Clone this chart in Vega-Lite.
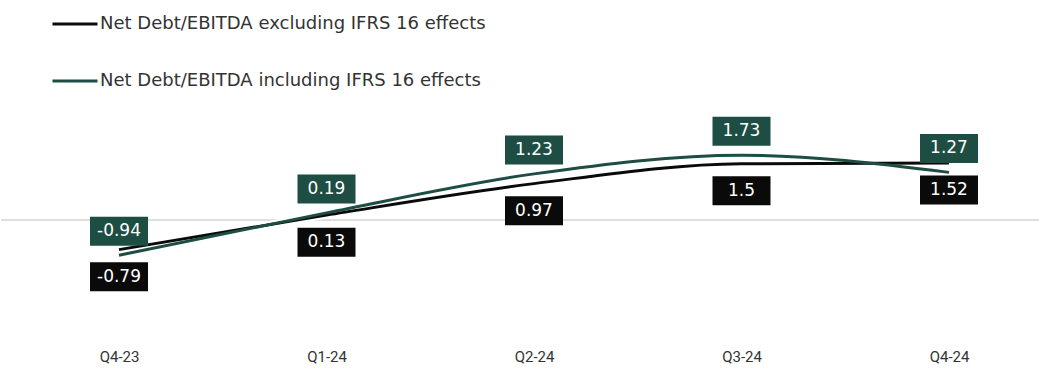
{
  "$schema": "https://vega.github.io/schema/vega-lite/v6.json",
  "width": 1039,
  "height": 340,
  "autosize": {"type": "pad"},
  "padding": 0,
  "background": "#ffffff",
  "config": {
    "view": {"stroke": null},
    "font": "DejaVu Sans",
    "locale": {
      "number": {"decimal": ".", "thousands": ",", "grouping": [3], "currency": ["", ""], "minus": "-"}
    }
  },
  "data": {
    "values": [
      {"quarter": "Q4-23", "series": "Net Debt/EBITDA excluding IFRS 16 effects", "ratio": -0.79},
      {"quarter": "Q1-24", "series": "Net Debt/EBITDA excluding IFRS 16 effects", "ratio": 0.13},
      {"quarter": "Q2-24", "series": "Net Debt/EBITDA excluding IFRS 16 effects", "ratio": 0.97},
      {"quarter": "Q3-24", "series": "Net Debt/EBITDA excluding IFRS 16 effects", "ratio": 1.5},
      {"quarter": "Q4-24", "series": "Net Debt/EBITDA excluding IFRS 16 effects", "ratio": 1.52},
      {"quarter": "Q4-23", "series": "Net Debt/EBITDA including IFRS 16 effects", "ratio": -0.94},
      {"quarter": "Q1-24", "series": "Net Debt/EBITDA including IFRS 16 effects", "ratio": 0.19},
      {"quarter": "Q2-24", "series": "Net Debt/EBITDA including IFRS 16 effects", "ratio": 1.23},
      {"quarter": "Q3-24", "series": "Net Debt/EBITDA including IFRS 16 effects", "ratio": 1.73},
      {"quarter": "Q4-24", "series": "Net Debt/EBITDA including IFRS 16 effects", "ratio": 1.27}
    ]
  },
  "encoding": {
    "x": {
      "field": "quarter",
      "type": "ordinal",
      "sort": ["Q4-23", "Q1-24", "Q2-24", "Q3-24", "Q4-24"],
      "scale": {"type": "point", "range": [118, 948], "padding": 0},
      "axis": {
        "title": null,
        "domain": false,
        "ticks": false,
        "tickSize": 0,
        "grid": false,
        "labelAngle": 0,
        "labelPadding": 9,
        "labelFont": "Roboto",
        "labelFontSize": 15,
        "labelColor": "#333333"
      }
    },
    "y": {
      "field": "ratio",
      "type": "quantitative",
      "scale": {"domain": [-3.2, 5.8667], "nice": false, "zero": false},
      "axis": null
    }
  },
  "layer": [
    {
      "mark": {"type": "rule", "color": "#dedede", "strokeWidth": 1},
      "encoding": {"x": null, "y": {"datum": 0, "type": "quantitative"}}
    },
    {
      "mark": {"type": "line", "interpolate": "monotone", "color": "#ffffff", "strokeWidth": 7},
      "encoding": {"detail": {"field": "series"}}
    },
    {
      "mark": {"type": "line", "interpolate": "monotone", "strokeWidth": 3},
      "encoding": {
        "color": {
          "field": "series",
          "type": "nominal",
          "scale": {
            "domain": ["Net Debt/EBITDA excluding IFRS 16 effects", "Net Debt/EBITDA including IFRS 16 effects"],
            "range": ["#0a0a0a", "#1d4d43"]
          },
          "legend": {
            "title": null,
            "orient": "none",
            "legendX": 50,
            "legendY": 0,
            "direction": "vertical",
            "padding": 0,
            "symbolType": "stroke",
            "symbolSize": 2025,
            "symbolStrokeWidth": 3,
            "rowPadding": 24,
            "labelOffset": 1,
            "labelFont": "DejaVu Sans",
            "labelFontSize": 18,
            "labelColor": "#333333",
            "labelLimit": 700
          }
        }
      }
    },
    {
      "transform": [{"filter": "datum.series == 'Net Debt/EBITDA including IFRS 16 effects'"}],
      "layer": [
        {
          "mark": {"type": "point", "shape": "M-1,-0.5H1V0.5H-1Z", "filled": true, "opacity": 1, "size": 3364, "yOffset": -24, "strokeWidth": 0},
          "encoding": {"color": {"field": "series", "type": "nominal"}}
        },
        {
          "mark": {"type": "text", "color": "#ffffff", "fontSize": 17, "baseline": "middle", "align": "center", "yOffset": -24},
          "encoding": {"text": {"field": "ratio", "type": "quantitative"}}
        }
      ]
    },
    {
      "transform": [{"filter": "datum.series == 'Net Debt/EBITDA excluding IFRS 16 effects'"}],
      "layer": [
        {
          "mark": {"type": "point", "shape": "M-1,-0.5H1V0.5H-1Z", "filled": true, "opacity": 1, "size": 3364, "yOffset": 27, "strokeWidth": 0},
          "encoding": {"color": {"field": "series", "type": "nominal"}}
        },
        {
          "mark": {"type": "text", "color": "#ffffff", "fontSize": 17, "baseline": "middle", "align": "center", "yOffset": 27},
          "encoding": {"text": {"field": "ratio", "type": "quantitative"}}
        }
      ]
    }
  ]
}
